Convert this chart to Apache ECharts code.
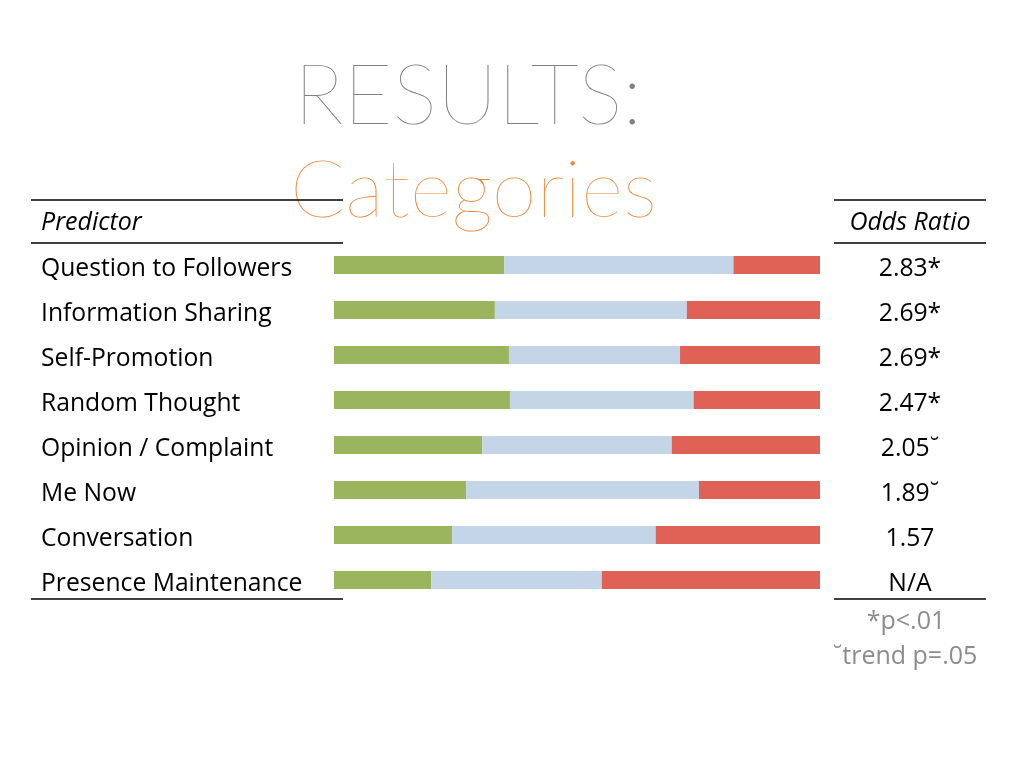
<!DOCTYPE html>
<html>
<head>
<meta charset="utf-8">
<script src="https://cdn.jsdelivr.net/npm/echarts@6/dist/echarts.min.js"></script>
<style>html,body{margin:0;padding:0;background:#fff;}#chart{width:1024px;height:768px;}</style>
</head>
<body>
<div id="chart"></div>
<script>
var categories = ['Question to Followers','Information Sharing','Self-Promotion','Random Thought','Opinion / Complaint','Me Now','Conversation','Presence Maintenance'];
var greenValues = [35.0, 33.1, 36.0, 36.2, 30.5, 27.2, 24.3, 20.0];
var blueValues  = [47.2, 39.5, 35.2, 37.8, 39.0, 47.9, 41.9, 35.1];
var redValues   = [17.8, 27.4, 28.8, 26.0, 30.5, 24.9, 33.8, 44.9];
var oddsRatios  = ['2.83*','2.69*','2.69*','2.47*','2.05˘','1.89˘','1.57','N/A'];

var chart = echarts.init(document.getElementById('chart'));
var FONT = 'Open Sans';
var TFONT = 'Lato';
var lineStyle = {stroke:'#000', lineWidth:1.5};
function hline(x1,x2,y){return {type:'line',shape:{x1:x1,y1:y,x2:x2,y2:y},style:lineStyle,z:10};}
var labelRich = {t:{fontFamily:FONT, fontSize:24.7, color:'#000', padding:[7,0,0,0]}};
chart.setOption({
  animation:false,
  backgroundColor:'#fff',
  grid:{left:334, width:486, top:242.5, height:360},
  xAxis:{type:'value', min:0, max:100, show:false},
  yAxis:[{
    type:'category', data:categories, inverse:true,
    axisLine:{show:false}, axisTick:{show:false},
    axisLabel:{align:'left', margin:293, formatter:'{t|{value}}', rich:labelRich}
  },{
    type:'category', data:oddsRatios, inverse:true, position:'right',
    axisLine:{show:false}, axisTick:{show:false},
    axisLabel:{align:'center', margin:90, formatter:'{t|{value}}', rich:labelRich}
  }],
  series:[
    {type:'bar', stack:'s', data:greenValues, barWidth:18, itemStyle:{color:'#9BB55F'}},
    {type:'bar', stack:'s', data:blueValues, barWidth:18, itemStyle:{color:'#C5D5E8'}},
    {type:'bar', stack:'s', data:redValues, barWidth:18, itemStyle:{color:'#E06155'}}
  ],
  graphic:[
    {type:'text', left:294, top:55, style:{text:'RESULTS:', fontFamily:TFONT, fontWeight:100, fontSize:84, fill:'#808080'}},
    {type:'text', left:290, top:150, style:{text:'Categories', fontFamily:TFONT, fontWeight:100, fontSize:81, fill:'#EC8A3E'}},
    hline(31,343,200), hline(31,343,243), hline(31,343,599),
    hline(834,986,200), hline(834,986,243), hline(834,986,599),
    {type:'text', x:41, y:223, style:{text:'Predictor', fontFamily:FONT, fontStyle:'italic', fontSize:25, fill:'#000', verticalAlign:'middle'}},
    {type:'text', x:910, y:223, style:{text:'Odds Ratio', fontFamily:FONT, fontStyle:'italic', fontSize:25, fill:'#000', align:'center', verticalAlign:'middle'}},
    {type:'text', x:906, y:622, style:{text:'*p<.01', fontFamily:FONT, fontSize:25, fill:'#8c8c8c', align:'center', verticalAlign:'middle'}},
    {type:'text', x:905, y:657, style:{text:'˘trend p=.05', fontFamily:FONT, fontSize:25, fill:'#8c8c8c', align:'center', verticalAlign:'middle'}}
  ]
});
</script>
</body>
</html>
